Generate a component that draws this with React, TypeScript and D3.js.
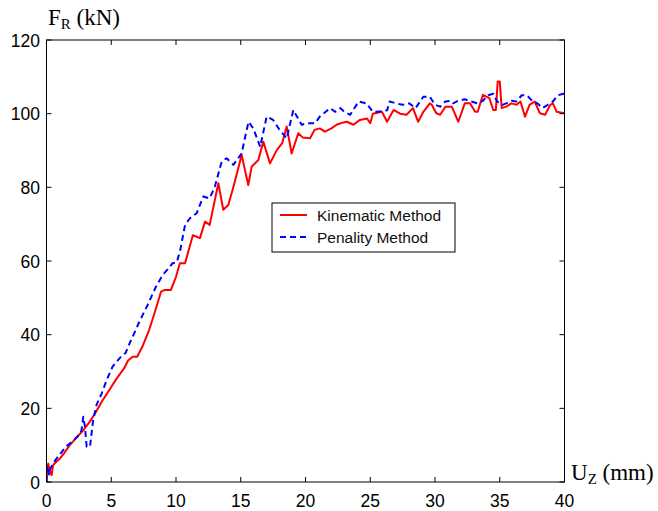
import React from "react";
import * as d3 from "d3";

const xTicks = [0, 5, 10, 15, 20, 25, 30, 35, 40];
const yTicks = [0, 20, 40, 60, 80, 100, 120];
const seriesNames = ["Kinematic Method", "Penality Method"];

const kinematicU = [0, 0.08, 0.14, 0.25, 0.4, 0.5, 0.7, 1.04, 1.4, 1.8, 2.3, 2.85, 3.3, 3.75, 4.3, 4.85, 5.4, 6.0, 6.3, 6.65, 7.0, 7.4, 7.9, 8.4, 8.85, 9.1, 9.6, 10.0, 10.3, 10.7, 11.3, 11.85, 12.24, 12.6, 13.27, 13.65, 14.04, 14.5, 15.07, 15.58, 15.84, 16.36, 16.74, 17.26, 17.78, 18.2, 18.55, 18.93, 19.44, 19.8, 20.35, 20.7, 21.1, 21.5, 22.0, 22.4, 22.8, 23.2, 23.7, 24.2, 24.75, 25.0, 25.2, 25.9, 26.3, 26.8, 27.3, 27.8, 28.3, 28.7, 29.1, 29.6, 29.75, 30.1, 30.4, 30.8, 31.3, 31.8, 32.3, 32.7, 33.1, 33.3, 33.7, 34.2, 34.5, 34.7, 34.84, 35.0, 35.15, 35.5, 35.9, 36.3, 36.6, 36.95, 37.3, 37.7, 38.1, 38.5, 38.9, 39.1, 39.4, 40];
const kinematicF = [0, 4.5, 5, 3, 1.9, 4.5, 5.3, 6.4, 8, 10, 12, 14.1, 16.2, 18.6, 22, 25, 28, 30.9, 33, 34, 34, 36.7, 41, 46.5, 51.7, 52.1, 52.1, 55.7, 59.4, 59.4, 67, 66.2, 70.7, 69.8, 81.1, 73.9, 75.2, 81, 88.8, 80.6, 85.6, 87.4, 92.4, 86.5, 90.1, 92, 96.5, 89.2, 94.7, 93.5, 93.3, 95.6, 96, 95.1, 96, 97, 97.5, 97.8, 97, 98.3, 98.7, 97.4, 100, 100.5, 97.8, 101, 100, 99.7, 101.5, 97.8, 100.5, 102.8, 102.4, 100.1, 99.7, 101.9, 101.9, 97.8, 102.8, 102.8, 100.5, 100.5, 105.1, 104.2, 101, 101, 108.7, 108.7, 101.5, 101.9, 102.8, 102.4, 103.3, 99.2, 102.4, 103.3, 100.1, 99.7, 102.4, 102.8, 100.5, 100.1];

const penaltyU = [0, 0.05, 0.2, 0.3, 0.4, 0.5, 0.8, 1.1, 1.5, 2.0, 2.53, 2.7, 2.84, 2.97, 3.1, 3.36, 3.6, 3.87, 4.26, 4.65, 5.1, 5.5, 5.88, 6.1, 6.4, 6.78, 7.17, 7.8, 8.45, 8.97, 9.3, 9.74, 10.05, 10.3, 10.7, 11.08, 11.6, 12.1, 12.6, 13.0, 13.53, 13.9, 14.43, 15.07, 15.3, 15.6, 15.97, 16.5, 17.0, 17.5, 18.0, 18.55, 19.06, 19.7, 20.1, 20.75, 21.1, 21.9, 22.3, 22.7, 23.0, 23.45, 24.1, 24.7, 25.2, 25.55, 26.3, 26.5, 27.0, 27.5, 28.0, 28.5, 29.1, 29.6, 30.0, 30.4, 30.8, 31.2, 31.4, 31.8, 32.3, 32.8, 33.3, 33.7, 34.1, 34.5, 34.8, 35.2, 35.5, 35.9, 36.3, 36.7, 37.1, 37.5, 37.9, 38.3, 38.7, 39.1, 39.5, 39.9, 40];
const penaltyF = [0, 4.5, 2, 3.6, 4.3, 5, 6.5, 7.8, 9.6, 11, 12.8, 14, 17.7, 15, 9.6, 9.6, 16.8, 21, 24, 27.7, 31.3, 33, 34.5, 35, 37.5, 40.4, 43.5, 48, 53, 56.2, 57.5, 59.4, 59.6, 62.5, 69.8, 71.6, 73, 77.5, 77, 80.2, 87, 87.9, 86.1, 89.2, 93, 97.8, 96, 91, 99.2, 98.3, 95.6, 93.3, 101, 97, 97.4, 97.4, 99.2, 101.5, 100.5, 101.5, 100.5, 99.7, 103.3, 102.8, 100.5, 100.5, 100.9, 103.3, 102.8, 102.4, 102.8, 101.5, 104.6, 104.6, 102.4, 101.9, 103.3, 103.5, 102.8, 103.5, 103.9, 103.3, 102.8, 103.5, 105, 105.4, 103.3, 102.4, 102.8, 103.5, 103.3, 105, 105, 103.5, 102.8, 101.5, 102.4, 103.3, 105, 105.4, 104.6];

const W = 658;
const H = 511;
const L = 46.5, R = 564.5, T = 40, B = 482;

export default function App() {
  const x = d3.scaleLinear().domain([0, 40]).range([L, R]);
  const y = d3.scaleLinear().domain([0, 120]).range([B, T]);
  const line = d3
    .line<number>()
    .x((_, i) => 0)
    .y(() => 0);
  const mk = (us: number[], fs: number[]) =>
    d3
      .line<[number, number]>()
      .x((d) => x(d[0]))
      .y((d) => y(d[1]))(us.map((u, i) => [u, fs[i]] as [number, number])) || "";
  const redPath = mk(kinematicU, kinematicF);
  const bluePath = mk(penaltyU, penaltyF);
  void line;
  const tickLen = 5;
  const sans = "'Liberation Sans', Arial, sans-serif";
  const serif = "'Liberation Serif', 'Times New Roman', serif";
  return (
    <svg
      width={W}
      height={H}
      style={{ position: "absolute", left: 0, top: 0, background: "#fff" }}
    >
      <rect x={0} y={0} width={W} height={H} fill="#fff" />
      <defs>
        <clipPath id="plotclip">
          <rect x={L} y={T - 10} width={R - L} height={B - T + 10} />
        </clipPath>
      </defs>
      <g clipPath="url(#plotclip)">
        <path d={redPath} fill="none" stroke="#ff0000" strokeWidth={2} strokeLinejoin="round" />
        <path d={bluePath} fill="none" stroke="#0000ff" strokeWidth={2} strokeDasharray="6,4" strokeLinejoin="round" />
      </g>
      <rect x={L} y={T} width={R - L} height={B - T} fill="none" stroke="#000" strokeWidth={1} />
      {xTicks.map((t) => (
        <g key={"x" + t}>
          <line x1={x(t)} x2={x(t)} y1={B} y2={B - tickLen} stroke="#000" />
          <line x1={x(t)} x2={x(t)} y1={T} y2={T + tickLen} stroke="#000" />
          <text x={x(t)} y={507} textAnchor="middle" fontFamily={sans} fontSize={17.5} fill="#000">
            {t}
          </text>
        </g>
      ))}
      {yTicks.map((t) => (
        <g key={"y" + t}>
          <line x1={L} x2={L + tickLen} y1={y(t)} y2={y(t)} stroke="#000" />
          <line x1={R} x2={R - tickLen} y1={y(t)} y2={y(t)} stroke="#000" />
          <text x={40} y={y(t) + 6.5} textAnchor="end" fontFamily={sans} fontSize={17.5} fill="#000">
            {t}
          </text>
        </g>
      ))}
      <text x={48} y={25} fontFamily={serif} fontSize={23} fill="#000">
        F<tspan fontSize={15} dy={4}>R</tspan>
        <tspan dy={-4}> (kN)</tspan>
      </text>
      <text x={571} y={480} fontFamily={serif} fontSize={23} fill="#000">
        U<tspan fontSize={15} dy={4}>Z</tspan>
        <tspan dy={-4}> (mm)</tspan>
      </text>
      <g>
        <rect x={272} y={203} width={183} height={49} fill="#fff" stroke="#000" strokeWidth={1} />
        <line x1={280} x2={307} y1={215} y2={215} stroke="#ff0000" strokeWidth={2} />
        <line x1={280} x2={307} y1={237} y2={237} stroke="#0000ff" strokeWidth={2} strokeDasharray="6,4" />
        <text x={317} y={220.5} fontFamily={sans} fontSize={15.5} fill="#111">
          {seriesNames[0]}
        </text>
        <text x={317} y={242.5} fontFamily={sans} fontSize={15.5} fill="#111">
          {seriesNames[1]}
        </text>
      </g>
    </svg>
  );
}
